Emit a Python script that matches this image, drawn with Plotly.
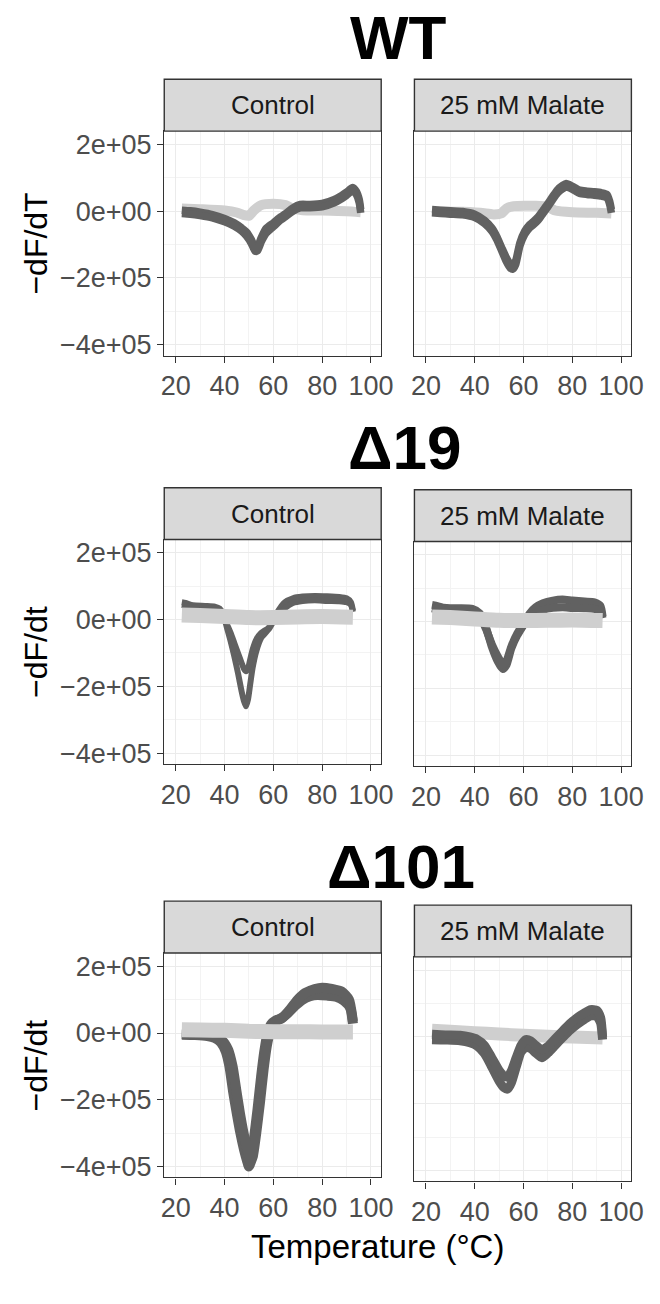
import plotly.graph_objects as go

# ---------------- data ----------------
panel_titles = ["Control", "25 mM Malate"]
row_titles = ["WT", "Δ19", "Δ101"]
y_axis_titles = ["−dF/dT", "−dF/dt", "−dF/dt"]
x_ticks = [20, 40, 60, 80, 100]
x_tick_text = ["20", "40", "60", "80", "100"]
y_ticks = [-400000, -200000, 0, 200000]
y_tick_text = ["−4e+05", "−2e+05", "0e+00", "2e+05"]
x_axis_title = "Temperature (°C)"

# WT - Control
wt_ctrl_T = [22.5, 26, 30, 35, 40, 44, 47, 49, 51, 52.5, 53.5, 55, 57, 60, 63, 65, 68, 71, 75, 80, 85, 88, 90, 92.5, 94, 95.2, 95.8]
wt_ctrl_dark_a = [3000, 1000, -3000, -10000, -22000, -35000, -50000, -62000, -85000, -108000, -107000, -80000, -52000, -35000, -17000, -7000, 10000, 20000, 20000, 23000, 35000, 47000, 57000, 71000, 60000, 35000, 5000]
wt_ctrl_dark_b = [-7000, -9000, -13000, -20000, -32000, -45000, -60000, -75000, -97000, -120000, -119000, -93000, -67000, -47000, -27000, -17000, 0, 10000, 10000, 13000, 25000, 37000, 47000, 61000, 50000, 25000, -5000]
wt_ctrl_light_T = [22.5, 30, 40, 45, 48, 50, 52, 55, 60, 65, 68, 72, 80, 90, 95.8]
wt_ctrl_light = [8000, 6000, 2000, -4000, -12000, -14000, 2000, 18000, 22000, 18000, 8000, 3000, 2000, 0, -3000]

# WT - 25 mM Malate
wt_mal_T = [22.5, 26, 30, 35, 40, 44, 47, 49, 51, 53, 54.5, 55.6, 56.8, 58.5, 60.5, 62.5, 64, 66, 68, 70, 72, 74, 76, 77.5, 79, 81, 83, 86, 89, 92, 94.2, 95.3, 96]
wt_mal_dark_a = [5000, 3000, 1000, -1000, -9000, -27000, -50000, -75000, -108000, -140000, -158000, -162000, -148000, -95000, -60000, -40000, -31000, -17000, 3000, 23000, 45000, 65000, 77000, 83000, 79000, 71000, 63000, 60000, 58000, 55000, 50000, 30000, 5000]
wt_mal_dark_b = [-5000, -7000, -9000, -11000, -19000, -37000, -60000, -85000, -118000, -152000, -170000, -174000, -160000, -105000, -70000, -50000, -41000, -27000, -7000, 13000, 35000, 55000, 67000, 73000, 69000, 61000, 53000, 50000, 48000, 45000, 40000, 20000, -5000]
wt_mal_light_T = [22.5, 35, 44, 48, 51, 53, 56, 65, 70, 73, 80, 90, 96]
wt_mal_light = [0, -2000, -6000, -10000, -6000, 8000, 15000, 16000, 12000, 2000, -3000, -5000, -7000]

# Δ19 - Control
d19_ctrl_T = [22.5, 24, 27, 32, 36, 38, 39.5, 41, 42.5, 44, 45.5, 47, 48, 48.8, 49.6, 50.5, 51.5, 53, 55, 58, 60, 62, 64.7, 68, 72, 77, 82, 87, 90, 91.8, 92.6]
d19_ctrl_dark_a = [52000, 50000, 43000, 41000, 39000, 33000, 15000, -25000, -65000, -110000, -160000, -215000, -245000, -260000, -240000, -195000, -145000, -95000, -55000, -30000, -5000, 26000, 52000, 64000, 69000, 71000, 70000, 68000, 64000, 52000, 27000]
d19_ctrl_dark_b = [44000, 42000, 37000, 35000, 33000, 27000, 8000, -15000, -40000, -70000, -100000, -130000, -148000, -155000, -148000, -120000, -90000, -60000, -40000, -25000, 0, 14000, 34000, 50000, 56000, 58000, 56000, 55000, 52000, 44000, 23000]
d19_ctrl_light_T = [22.5, 30, 40, 50, 60, 70, 80, 92.6]
d19_ctrl_light = [14000, 12000, 9000, 6000, 6000, 8000, 9000, 7000]

# Δ19 - 25 mM Malate
d19_mal_T = [22.5, 24, 27, 33, 39, 42, 44.5, 47, 49.5, 51.5, 53, 55, 57.5, 60, 62.5, 65, 68, 72, 76, 80, 85, 89, 91.5, 92.4]
d19_mal_dark_a = [50000, 48000, 42000, 40000, 38000, 25000, -15000, -75000, -120000, -142000, -130000, -80000, -40000, -10000, 24000, 43000, 55000, 63000, 66000, 63000, 60000, 58000, 47000, 15000]
d19_mal_dark_b = [40000, 38000, 35000, 33000, 31000, 18000, -20000, -68000, -105000, -128000, -118000, -75000, -35000, -8000, 12000, 25000, 35000, 41000, 43000, 41000, 40000, 38000, 30000, 10000]
d19_mal_light_T = [22.5, 30, 40, 50, 60, 70, 80, 92.4]
d19_mal_light = [14000, 12000, 8000, 4000, 3000, 4000, 5000, 3000]

# Δ101 - Control
d101_ctrl_T_a = [22.5, 28, 33, 36, 38.5, 40.5, 42, 43.5, 45, 46.5, 48, 49.3, 50, 50.8, 52, 53.5, 55, 56.3, 57.5, 59, 61, 63, 66, 69, 72, 75, 78, 82, 86, 89, 91.5, 92.6]
d101_ctrl_dark_a = [-5000, -6000, -9000, -15000, -28000, -55000, -100000, -175000, -240000, -300000, -350000, -385000, -400000, -385000, -320000, -230000, -130000, -55000, -5000, 25000, 38000, 42000, 60000, 82000, 100000, 110000, 114000, 112000, 108000, 96000, 75000, 28000]
d101_ctrl_T_b = [22.5, 28, 33, 36, 39, 41.5, 43.3, 44.8, 46.3, 47.8, 49.3, 50.3, 50.8, 51.6, 53, 54.5, 56, 57.3, 58.5, 60, 62, 64, 67, 70, 73, 77, 80, 84, 88, 91, 92.6]
d101_ctrl_dark_b = [-3000, -4000, -6000, -10000, -22000, -50000, -100000, -170000, -240000, -300000, -350000, -375000, -385000, -370000, -300000, -210000, -110000, -40000, 0, 25000, 40000, 48000, 72000, 100000, 120000, 132000, 136000, 132000, 124000, 100000, 35000]
d101_ctrl_light_T = [22.5, 30, 40, 50, 60, 70, 80, 92.6]
d101_ctrl_light = [10000, 9000, 8000, 5000, 4000, 4000, 3000, 3000]

# Δ101 - 25 mM Malate
d101_mal_T = [22.5, 28, 34, 38, 41, 44, 47, 50, 52, 53.5, 55, 57, 59, 61, 63, 65, 67.5, 70, 73, 76, 79, 82, 85, 87.5, 90, 91.6, 92.4]
d101_mal_dark_a = [-8000, -9000, -11000, -17000, -27000, -50000, -90000, -132000, -152000, -156000, -138000, -90000, -45000, -30000, -35000, -48000, -62000, -48000, -25000, -2000, 20000, 38000, 53000, 63000, 62000, 42000, -8000]
d101_mal_dark_b = [8000, 6000, 5000, 0, -7000, -25000, -62000, -100000, -117000, -120000, -102000, -62000, -25000, -8000, -12000, -25000, -38000, -28000, -5000, 18000, 40000, 58000, 72000, 82000, 80000, 58000, 0]
d101_mal_light_T = [22.5, 30, 40, 50, 60, 70, 80, 92.4]
d101_mal_light = [20000, 17000, 13000, 9000, 5000, 2000, 0, -3000]

# ---------------- layout geometry (pixels) ----------------
W, H = 660, 1304
DARK = "#616161"
LIGHT = "#cfcfcf"
FONT = "Liberation Sans, Arial, Helvetica, sans-serif"

col_x = [(165, 387), (421, 643)]
rows_px = [
    [(130.6, 356.0), (130.6, 356.0)],
    [(540.6, 766.0), (542.6, 768.0)],
    [(955.6, 1181.0), (959.6, 1185.0)],
]
strip_h = 52
title_pos = [(405, 37), (411, 448), (407, 869)]

panels = [
    (0, 0, [(wt_ctrl_T, wt_ctrl_dark_a, 7.5), (wt_ctrl_T, wt_ctrl_dark_b, 7.5)], (wt_ctrl_light_T, wt_ctrl_light, 10), True),
    (0, 1, [(wt_mal_T, wt_mal_dark_a, 7.5), (wt_mal_T, wt_mal_dark_b, 7.5)], (wt_mal_light_T, wt_mal_light, 10), True),
    (1, 0, [(d19_ctrl_T, d19_ctrl_dark_a, 6), (d19_ctrl_T, d19_ctrl_dark_b, 6)], (d19_ctrl_light_T, d19_ctrl_light, 15), False),
    (1, 1, [(d19_mal_T, d19_mal_dark_a, 8), (d19_mal_T, d19_mal_dark_b, 8)], (d19_mal_light_T, d19_mal_light, 15), False),
    (2, 0, [(d101_ctrl_T_a, d101_ctrl_dark_a, 10), (d101_ctrl_T_b, d101_ctrl_dark_b, 10)], (d101_ctrl_light_T, d101_ctrl_light, 15), False),
    (2, 1, [(d101_mal_T, d101_mal_dark_a, 9), (d101_mal_T, d101_mal_dark_b, 9)], (d101_mal_light_T, d101_mal_light, 13), True),
]


def px_x(v):
    return v / W


def px_y(v):
    return 1 - v / H


fig = go.Figure()
layout = dict(
    width=W, height=H, margin=dict(l=0, r=0, t=0, b=0),
    paper_bgcolor="white", plot_bgcolor="white", showlegend=False,
    font=dict(family=FONT),
)
shapes = []
annotations = []

for idx, (r, c, darks, light, dark_top) in enumerate(panels):
    n = idx + 1
    xa = "x" if n == 1 else f"x{n}"
    ya = "y" if n == 1 else f"y{n}"
    top, bot = rows_px[r][c]
    x0, x1 = col_x[c]

    traces_dark = [go.Scatter(x=T, y=v, mode="lines", line=dict(color=DARK, width=w, shape="spline", smoothing=0.6),
                              xaxis=xa, yaxis=ya, hoverinfo="skip") for (T, v, w) in darks]
    trace_light = go.Scatter(x=light[0], y=light[1], mode="lines",
                             line=dict(color=LIGHT, width=light[2], shape="spline", smoothing=0.6),
                             xaxis=xa, yaxis=ya, hoverinfo="skip")
    if dark_top:
        fig.add_trace(trace_light)
        for t in traces_dark:
            fig.add_trace(t)
    else:
        for t in traces_dark:
            fig.add_trace(t)
        fig.add_trace(trace_light)

    xkey = "xaxis" if n == 1 else f"xaxis{n}"
    ykey = "yaxis" if n == 1 else f"yaxis{n}"
    layout[xkey] = dict(
        domain=[px_x(x0), px_x(x1)], anchor=ya, range=[15.3, 104.2],
        tickmode="array", tickvals=x_ticks, ticktext=x_tick_text,
        ticks="outside", ticklen=6, tickwidth=1.3, tickcolor="#333333",
        tickfont=dict(size=27, color="#4d4d4d", family=FONT),
        showline=True, mirror=True, linecolor="#333333", linewidth=1.4,
        showgrid=True, gridcolor="#ebebeb", gridwidth=1.3, zeroline=False,
        minor=dict(tickmode="array", tickvals=[30, 50, 70, 90], showgrid=True, gridcolor="#f3f3f3", gridwidth=0.8, ticks=""),
        fixedrange=True,
    )
    layout[ykey] = dict(
        domain=[px_y(bot), px_y(top)], anchor=xa, range=[-433000, 240000],
        tickmode="array", tickvals=y_ticks, ticktext=y_tick_text,
        ticks="outside" if c == 0 else "", ticklen=6, tickwidth=1.3, tickcolor="#333333",
        showticklabels=(c == 0),
        tickfont=dict(size=27, color="#4d4d4d", family=FONT),
        showline=True, mirror=True, linecolor="#333333", linewidth=1.4,
        showgrid=True, gridcolor="#ebebeb", gridwidth=1.3, zeroline=False,
        minor=dict(tickmode="array", tickvals=[-300000, -100000, 100000], showgrid=True, gridcolor="#f3f3f3", gridwidth=0.8, ticks=""),
        fixedrange=True,
    )

    shapes.append(dict(type="rect", xref="paper", yref="paper",
                       x0=px_x(x0), x1=px_x(x1), y0=px_y(top), y1=px_y(top - strip_h),
                       fillcolor="#d9d9d9", line=dict(color="#333333", width=1.4), layer="above"))
    annotations.append(dict(text=panel_titles[c], xref="paper", yref="paper",
                            x=px_x((x0 + x1) / 2), y=px_y(top - strip_h / 2),
                            xanchor="center", yanchor="middle", showarrow=False,
                            font=dict(size=26, color="#1a1a1a", family=FONT)))
    if c == 0:
        annotations.append(dict(text=y_axis_titles[r], xref="paper", yref="paper",
                                x=px_x(34), y=px_y((top + bot) / 2), textangle=-90,
                                xanchor="center", yanchor="middle", showarrow=False,
                                font=dict(size=32, color="black", family=FONT)))

for r in range(3):
    tx, ty = title_pos[r]
    annotations.append(dict(text=f"<b>{row_titles[r]}</b>", xref="paper", yref="paper",
                            x=px_x(tx), y=px_y(ty), xanchor="center", yanchor="middle",
                            showarrow=False, font=dict(size=62, color="black", family=FONT)))

annotations.append(dict(text=x_axis_title, xref="paper", yref="paper",
                        x=px_x(383), y=px_y(1250), xanchor="center", yanchor="middle",
                        showarrow=False, font=dict(size=33, color="black", family=FONT)))

layout["shapes"] = shapes
layout["annotations"] = annotations
fig.update_layout(**layout)
fig.write_html("out.html", config={"displayModeBar": False},
               post_script="document.body.style.margin='0px';document.body.style.padding='0px';")
